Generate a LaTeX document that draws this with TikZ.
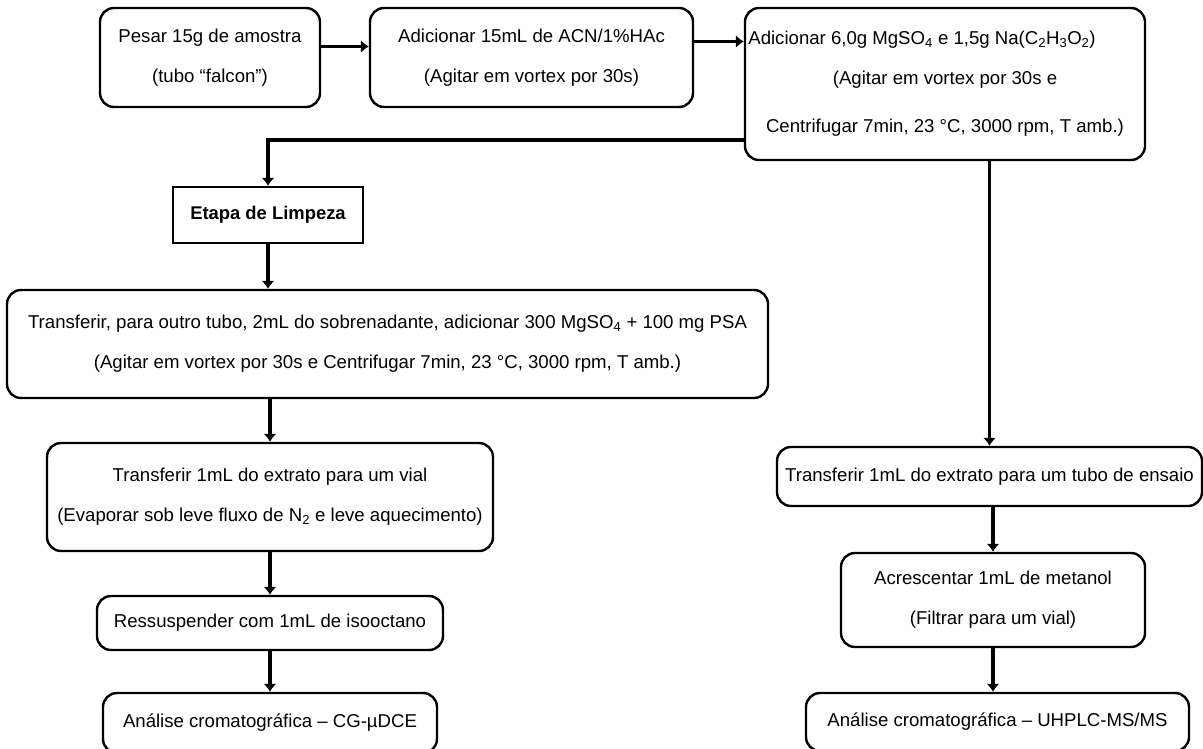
\documentclass[tikz,border=0pt]{standalone}
\usepackage{fontspec}
\setmainfont{Liberation Sans}
\usepackage{tikz}
\usetikzlibrary{arrows.meta}

\tikzset{
    passo/.style={draw, line width=2.4pt, rounded corners=14pt, align=center,
        inner sep=0pt, font=\fontsize{18.6}{40}\selectfont},
    etapa/.style={draw, line width=2.4pt, align=center, inner sep=0pt,
        font=\fontsize{18.4}{22}\selectfont\bfseries},
    seta/.style={line width=3.2pt, -{Latex[length=8pt,width=13pt]}}
}

\begin{document}
\begin{tikzpicture}[x=1pt,y=-1pt]

\useasboundingbox (0,0) rectangle (1203,749);
\clip (0,0) rectangle (1203,749);

% Extracao
\node[passo, minimum width=220, minimum height=99] (pesar) at (210,57.5)
    {Pesar 15g de amostra\\(tubo “falcon”)};
\node[passo, minimum width=323, minimum height=99] (acn) at (531.5,57.5)
    {Adicionar 15mL de ACN/1\%HAc\\(Agitar em vortex por 30s)};
\node[passo, minimum width=400, minimum height=152] (sais) at (945,84)
    {Adicionar 6,0g MgSO\textsubscript{4} e 1,5g Na(C\textsubscript{2}H\textsubscript{3}O\textsubscript{2})\hspace*{46pt}\\
     (Agitar em vortex por 30s e\\[8pt]
     Centrifugar 7min, 23 °C, 3000 rpm, T amb.)};

% Limpeza (lado esquerdo)
\node[etapa, minimum width=190, minimum height=56] (limpeza) at (268,215)
    {Etapa de Limpeza};
\node[passo, minimum width=761, minimum height=108] (transf) at (387.5,344)
    {Transferir, para outro tubo, 2mL do sobrenadante, adicionar 300 MgSO\textsubscript{4} + 100 mg PSA\\
     (Agitar em vortex por 30s e Centrifugar 7min, 23 °C, 3000 rpm, T amb.)};
\node[passo, minimum width=446, minimum height=108] (vial) at (270,497)
    {Transferir 1mL do extrato para um vial\\
     (Evaporar sob leve fluxo de N\textsubscript{2} e leve aquecimento)};
\node[passo, minimum width=346, minimum height=54] (ress) at (270,623)
    {Ressuspender com 1mL de isooctano};
\node[passo, minimum width=334, minimum height=60] (cg) at (270,723)
    {Análise cromatográfica – CG-µDCE};

% Lado direito
\node[passo, minimum width=425, minimum height=59] (ensaio) at (989.5,476.5)
    {Transferir 1mL do extrato para um tubo de ensaio};
\node[passo, minimum width=304, minimum height=94] (metanol) at (993,600)
    {Acrescentar 1mL de metanol\\(Filtrar para um vial)};
\node[passo, minimum width=383, minimum height=58] (uhplc) at (997.5,722)
    {Análise cromatográfica – UHPLC-MS/MS};

% Setas
\draw[seta] ([yshift=11pt]pesar.east) -- ([yshift=11pt]pesar.east -| acn.west);
\draw[seta] ([yshift=16pt]acn.east) -- ([yshift=16pt]acn.east -| sais.west);
\draw[seta] ([yshift=-56pt]sais.west) -| (limpeza.north);
\draw[seta] (limpeza.south) -- (limpeza.south |- transf.north);
\draw[seta] (vial.north |- transf.south) -- (vial.north);
\draw[seta] (vial.south) -- (ress.north);
\draw[seta] (ress.south) -- (ress.south |- cg.north);

\draw[seta] (ensaio.north |- sais.south) -- (ensaio.north);
\draw[seta] (metanol.north |- ensaio.south) -- (metanol.north);
\draw[seta] (metanol.south) -- (metanol.south |- uhplc.north);

\end{tikzpicture}
\end{document}
